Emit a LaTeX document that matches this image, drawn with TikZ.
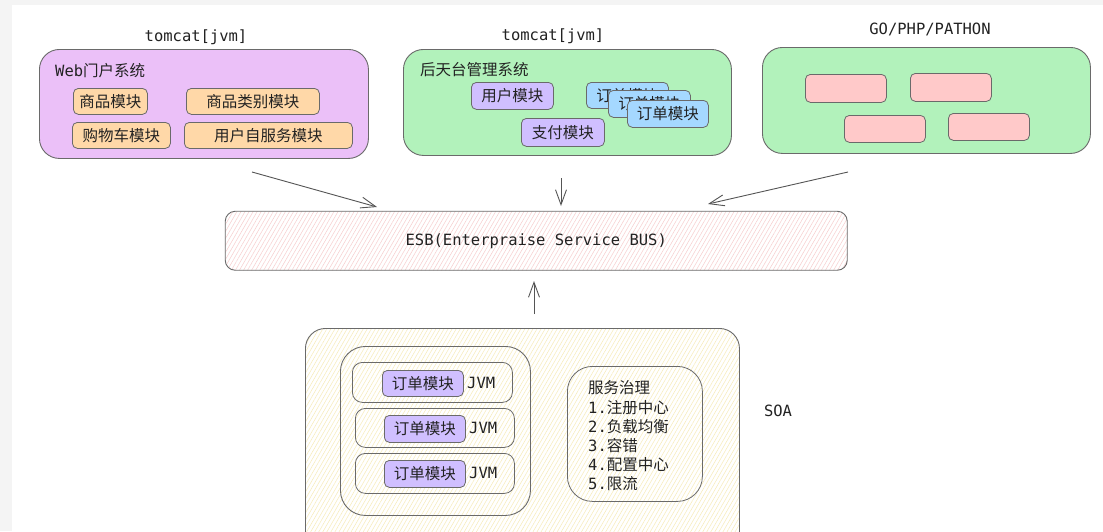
\documentclass[tikz,border=0pt]{standalone}
\usepackage{fontspec}
\setmainfont{DejaVu Sans Mono}
\newfontfamily\cjk{Noto Sans CJK SC}
\usetikzlibrary{arrows.meta,patterns.meta}
\definecolor{txt}{HTML}{222222}
\definecolor{edge}{HTML}{6A6A6A}
\definecolor{lilac}{HTML}{EBC0F8}
\definecolor{mint}{HTML}{B2F2BB}
\definecolor{peach}{HTML}{FFD8A8}
\definecolor{violet}{HTML}{D0BFFF}
\definecolor{sky}{HTML}{A5D8FF}
\definecolor{rose}{HTML}{FFC9C9}
\definecolor{hatchred}{HTML}{F7CDCD}
\definecolor{hatchyel}{HTML}{F7EBB8}
\definecolor{marginc}{HTML}{F4F4F4}
\begin{document}
\begin{tikzpicture}[x=1pt,y=-1pt,
  font=\fontsize{15.5}{19}\selectfont, text=txt,
  container/.style={draw=edge, line width=0.9pt, rounded corners=20pt, inner sep=0pt, anchor=north west},
  mod/.style={draw=edge, line width=0.8pt, rounded corners=5pt, inner sep=0pt, anchor=north west},
  rowbox/.style={draw=edge, line width=0.8pt, rounded corners=10pt, inner sep=0pt, anchor=north west},
  lbl/.style={inner sep=0pt, anchor=west},
  conn/.style={draw=edge!80!black, line width=0.9pt, -{Straight Barb[length=15pt,width=11pt,line width=0.9pt]}}
]
\useasboundingbox (0,0) rectangle (1103,531);
\clip (0,0) rectangle (1103,531);
\fill[marginc] (0,0) rectangle (1103,531);
\fill[white] (12,5) rectangle (1103,531);

% titles
\node (t1) at (196,37) {tomcat[jvm]};
\node (t2) at (553,36) {tomcat[jvm]};
\node (t3) at (930,29) {GO/PHP/PATHON};

% Web portal
\node[container, fill=lilac, minimum width=329pt, minimum height=109pt] (web) at (39,49) {};
\node[lbl] (webl) at (55,71) {Web{\cjk 门户系统}};
\node[mod, fill=peach, minimum width=74pt, minimum height=26pt] (w1) at (73,88) {\cjk 商品模块};
\node[mod, fill=peach, minimum width=133pt, minimum height=26pt] (w2) at (186,88) {\cjk 商品类别模块};
\node[mod, fill=peach, minimum width=98pt, minimum height=26pt] (w3) at (72,122) {\cjk 购物车模块};
\node[mod, fill=peach, minimum width=168pt, minimum height=26pt] (w4) at (184,122) {\cjk 用户自服务模块};

% back office
\node[container, fill=mint, minimum width=328pt, minimum height=106pt] (back) at (403,49) {};
\node[lbl] (backl) at (420,70) {\cjk 后天台管理系统};
\node[mod, fill=violet, minimum width=82pt, minimum height=27pt] (b1) at (471,82) {\cjk 用户模块};
\node[mod, fill=violet, minimum width=83pt, minimum height=28pt] (b2) at (521,118) {\cjk 支付模块};
\node[mod, fill=sky, minimum width=82pt, minimum height=26pt] (o1) at (586,82) {\cjk 订单模块};
\node[mod, fill=sky, minimum width=82pt, minimum height=27pt] (o2) at (608,90) {\cjk 订单模块};
\node[mod, fill=sky, minimum width=81pt, minimum height=27pt] (o3) at (627,100) {\cjk 订单模块};

% GO/PHP/PATHON
\node[container, fill=mint, minimum width=328pt, minimum height=106pt] (other) at (762,47) {};
\node[mod, fill=rose, minimum width=81pt, minimum height=28pt] (p1) at (805,74) {};
\node[mod, fill=rose, minimum width=81pt, minimum height=28pt] (p2) at (910,73) {};
\node[mod, fill=rose, minimum width=81pt, minimum height=27pt] (p3) at (844,115) {};
\node[mod, fill=rose, minimum width=81pt, minimum height=27pt] (p4) at (948,113) {};

% ESB
\node[draw=edge, line width=0.9pt, rounded corners=10pt, inner sep=0pt, anchor=north west,
  minimum width=622pt, minimum height=59pt, preaction={fill=white},
  pattern={Lines[angle=60,distance=3.5pt,line width=0.5pt]}, pattern color=hatchred] (esb) at (225,211) {};
\node (esbl) at (esb.center) {ESB(Enterpraise Service BUS)};

% SOA
\node[container, minimum width=434pt, minimum height=230pt, preaction={fill=white},
  pattern={Lines[angle=60,distance=3.5pt,line width=0.5pt]}, pattern color=hatchyel] (soa) at (305,328) {};
\node[container, rounded corners=25pt, minimum width=190pt, minimum height=169pt] (grp) at (340,346) {};
\node[rowbox, minimum width=160pt, minimum height=40pt] (r1) at (352,362) {};
\node[rowbox, minimum width=159pt, minimum height=39pt] (r2) at (355,408) {};
\node[rowbox, minimum width=159pt, minimum height=40pt] (r3) at (355,453) {};
\node[mod, fill=violet, minimum width=81pt, minimum height=26pt] (s1) at (382,370) {\cjk 订单模块};
\node[mod, fill=violet, minimum width=81pt, minimum height=27pt] (s2) at (384,415) {\cjk 订单模块};
\node[mod, fill=violet, minimum width=81pt, minimum height=27pt] (s3) at (384,460) {\cjk 订单模块};
\node[lbl] (j1) at (467,383) {JVM};
\node[lbl] (j2) at (469,428) {JVM};
\node[lbl] (j3) at (469,473) {JVM};
\node[rowbox, rounded corners=25pt, minimum width=135pt, minimum height=135pt] (gov) at (567,366) {};
\node[lbl, align=left, font=\fontsize{15.5}{19.2}\selectfont] (govl) at (588,436)
  {{\cjk 服务治理}\\1.{\cjk 注册中心}\\2.{\cjk 负载均衡}\\3.{\cjk 容错}\\4.{\cjk 配置中心}\\5.{\cjk 限流}};
\node (soal) at (778,411) {SOA};

% connectors
\coordinate (a1s) at (252,172); \coordinate (a1e) at (377,207);
\coordinate (a2s) at (561,178); \coordinate (a2e) at (561,206);
\coordinate (a3s) at (848,172); \coordinate (a3e) at (708,204);
\coordinate (a4s) at (534,314); \coordinate (a4e) at (534,281);
\draw[conn] (a1s) -- (a1e);
\draw[conn] (a2s) -- (a2e);
\draw[conn] (a3s) -- (a3e);
\draw[conn] (a4s) -- (a4e);
\end{tikzpicture}
\end{document}
